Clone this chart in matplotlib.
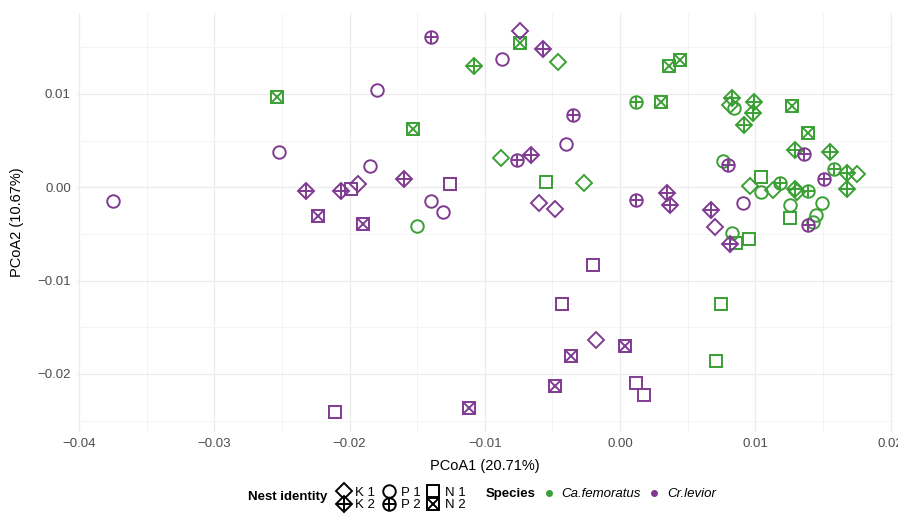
import numpy as np
import matplotlib.pyplot as plt
from matplotlib.lines import Line2D
from matplotlib.legend_handler import HandlerTuple
from matplotlib.ticker import MultipleLocator, FuncFormatter

plt.rcParams['font.family'] = ['Liberation Sans', 'DejaVu Sans']

# PCoA scores
pc1 = [-0.0375, -0.0254, -0.0252, -0.0232, -0.0223, -0.0206, -0.0199, -0.0194, -0.0185, -0.0190,
       -0.0180, -0.0160, -0.0153, -0.0140, -0.0131, -0.0150, -0.0126, -0.0140, -0.0108, -0.0087,
       -0.0074, -0.0074, -0.0057, -0.0046, -0.0035, -0.0040, -0.0088, -0.0076, -0.0066, -0.0055,
       -0.0027, -0.0060, -0.0048, 0.0012, -0.0020, -0.0043, -0.0018, -0.0036, -0.0048, -0.0112,
       -0.0211, 0.0004, 0.0012, 0.0018, 0.0075, 0.0071, 0.0012, 0.0030, 0.0036, 0.0044,
       0.0083, 0.0081, 0.0084, 0.0099, 0.0098, 0.0092, 0.0127, 0.0139, 0.0129, 0.0136,
       0.0155, 0.0076, 0.0080, 0.0158, 0.0168, 0.0175, 0.0168, 0.0151, 0.0104, 0.0096,
       0.0104, 0.0113, 0.0118, 0.0129, 0.0131, 0.0139, 0.0091, 0.0126, 0.0126, 0.0149,
       0.0145, 0.0143, 0.0139, 0.0067, 0.0070, 0.0083, 0.0086, 0.0081, 0.0095, 0.0035,
       0.0037]
pc2 = [-0.0015, 0.0097, 0.0038, -0.0004, -0.0031, -0.0004, -0.0002, 0.0004, 0.0023, -0.0039,
       0.0104, 0.0009, 0.0063, -0.0015, -0.0027, -0.0042, 0.0003, 0.0161, 0.0130, 0.0138,
       0.0167, 0.0155, 0.0148, 0.0134, 0.0078, 0.0046, 0.0031, 0.0029, 0.0035, 0.0006,
       0.0005, -0.0017, -0.0023, -0.0014, -0.0083, -0.0125, -0.0164, -0.0181, -0.0213, -0.0237,
       -0.0241, -0.0170, -0.0210, -0.0223, -0.0125, -0.0186, 0.0091, 0.0091, 0.0130, 0.0136,
       0.0096, 0.0088, 0.0085, 0.0091, 0.0080, 0.0067, 0.0087, 0.0058, 0.0040, 0.0036,
       0.0038, 0.0028, 0.0024, 0.0020, 0.0015, 0.0014, -0.0002, 0.0009, 0.0011, 0.0001,
       -0.0005, -0.0003, 0.0005, -0.0002, -0.0005, -0.0004, -0.0017, -0.0019, -0.0033, -0.0017,
       -0.0030, -0.0037, -0.0040, -0.0024, -0.0043, -0.0049, -0.0060, -0.0061, -0.0055, -0.0006,
       -0.0019]
species = ['Cr', 'Ca', 'Cr', 'Cr', 'Cr', 'Cr', 'Cr', 'Cr', 'Cr', 'Cr',
           'Cr', 'Cr', 'Ca', 'Cr', 'Cr', 'Ca', 'Cr', 'Cr', 'Ca', 'Cr',
           'Cr', 'Ca', 'Cr', 'Ca', 'Cr', 'Cr', 'Ca', 'Cr', 'Cr', 'Ca',
           'Ca', 'Cr', 'Cr', 'Cr', 'Cr', 'Cr', 'Cr', 'Cr', 'Cr', 'Cr',
           'Cr', 'Cr', 'Cr', 'Cr', 'Ca', 'Ca', 'Ca', 'Ca', 'Ca', 'Ca',
           'Ca', 'Ca', 'Ca', 'Ca', 'Ca', 'Ca', 'Ca', 'Ca', 'Ca', 'Cr',
           'Ca', 'Ca', 'Cr', 'Ca', 'Ca', 'Ca', 'Ca', 'Cr', 'Ca', 'Ca',
           'Ca', 'Ca', 'Ca', 'Ca', 'Ca', 'Ca', 'Cr', 'Ca', 'Ca', 'Ca',
           'Ca', 'Ca', 'Cr', 'Cr', 'Cr', 'Ca', 'Ca', 'Cr', 'Ca', 'Cr',
           'Cr']
nest = ['P1', 'N2', 'P1', 'K2', 'N2', 'K2', 'N1', 'K1', 'P1', 'N2',
        'P1', 'K2', 'N2', 'P1', 'P1', 'P1', 'N1', 'P2', 'K2', 'P1',
        'K1', 'N2', 'K2', 'K1', 'P2', 'P1', 'K1', 'P2', 'K2', 'N1',
        'K1', 'K1', 'K1', 'P2', 'N1', 'N1', 'K1', 'N2', 'N2', 'N2',
        'N1', 'N2', 'N1', 'N1', 'N1', 'N1', 'P2', 'N2', 'N2', 'N2',
        'K2', 'K1', 'P1', 'K2', 'K2', 'K2', 'N2', 'N2', 'K2', 'P2',
        'K2', 'P1', 'P2', 'P2', 'K2', 'K1', 'K2', 'P2', 'N1', 'K1',
        'P1', 'K1', 'P2', 'K2', 'K1', 'P2', 'P1', 'P1', 'N1', 'P1',
        'P1', 'P1', 'P2', 'K2', 'K1', 'P1', 'N1', 'K2', 'N1', 'K2',
        'K2']

nest_levels = ['K1', 'K2', 'P1', 'P2', 'N1', 'N2']
nest_labels = ['K 1', 'K 2', 'P 1', 'P 2', 'N 1', 'N 2']
species_levels = ['Ca', 'Cr']
species_labels = ['Ca.femoratus', 'Cr.levior']
colors = {'Ca': '#3AA034', 'Cr': '#803A91'}

# outline marker + inner stroke for each nest
shapes = {
    'K1': [('D', 8.6)], 'K2': [('D', 8.6), ('+', 12.2)],
    'P1': [('o', 9.0)], 'P2': [('o', 9.0), ('+', 9.0)],
    'N1': [('s', 8.6)], 'N2': [('s', 8.6), ('x', 8.6)],
}
mew = 1.4

pc1 = np.array(pc1)
pc2 = np.array(pc2)
species = np.array(species)
nest = np.array(nest)

fig = plt.figure(figsize=(8.98, 5.14), dpi=100)
ax = fig.add_axes([77/898, 82/514, 816/898, 419/514])

for sp in species_levels:
    for nv in nest_levels:
        m = (species == sp) & (nest == nv)
        for mk, ms in shapes[nv]:
            ax.plot(pc1[m], pc2[m], ls='none', marker=mk, ms=ms, mfc='none',
                    mec=colors[sp], mew=mew, zorder=3)

ax.set_xlim(-0.04015, 0.02018)
ax.set_ylim(-0.02623, 0.01868)

fmt = FuncFormatter(lambda v, p: ('%.2f' % (0 if abs(v) < 1e-9 else v)).replace('-', '\u2212'))
for a in (ax.xaxis, ax.yaxis):
    a.set_major_locator(MultipleLocator(0.01))
    a.set_minor_locator(MultipleLocator(0.005))
    a.set_major_formatter(fmt)
ax.grid(which='major', color='#EBEBEB', lw=0.9)
ax.grid(which='minor', color='#F3F3F3', lw=0.6)
ax.set_axisbelow(True)
for s in ax.spines.values():
    s.set_visible(False)
ax.tick_params(which='both', length=0)
ax.tick_params(axis='x', labelsize=9.5, labelcolor='#4D4D4D', pad=4.5)
ax.tick_params(axis='y', labelsize=9.5, labelcolor='#4D4D4D', pad=4.5)

fig.text(485/898, 1 - 466/514, 'PCoA1 (20.71%)', ha='center', va='center', fontsize=10.5)
fig.text(17/898, 1 - 222/514, 'PCoA2 (10.67%)', ha='center', va='center',
         rotation=90, fontsize=10.5)

# legend: nest identity
handles = []
for nv in nest_levels:
    parts = tuple(Line2D([], [], ls='none', marker=mk, ms=ms, mfc='none', mec='black', mew=mew)
                  for mk, ms in shapes[nv])
    handles.append(parts)
fig.text(248/898, 1 - 497/514, 'Nest identity', ha='left', va='center',
         fontsize=9.5, weight='bold')
fig.legend(handles, nest_labels, handler_map={tuple: HandlerTuple(ndivide=1, pad=0)},
           loc='center left', bbox_to_anchor=(335/898, 1 - 499/514), ncol=3,
           frameon=False, fontsize=9.5, handlelength=1.3, handletextpad=0.25,
           columnspacing=0.35, labelspacing=0.0, borderpad=0, borderaxespad=0)

# legend: species
fig.text(486/898, 1 - 494/514, 'Species', ha='left', va='center',
         fontsize=9.5, weight='bold')
sp_handles = [Line2D([], [], ls='none', marker='o', ms=4, color=colors[s]) for s in species_levels]
fig.legend(sp_handles, species_labels, loc='center left', bbox_to_anchor=(540/898, 1 - 494/514),
           ncol=2, frameon=False, prop={'style': 'italic', 'size': 9.5}, handlelength=1.3,
           handletextpad=0.3, columnspacing=0.4, borderpad=0, borderaxespad=0)

fig.savefig('out.png', dpi=100)
